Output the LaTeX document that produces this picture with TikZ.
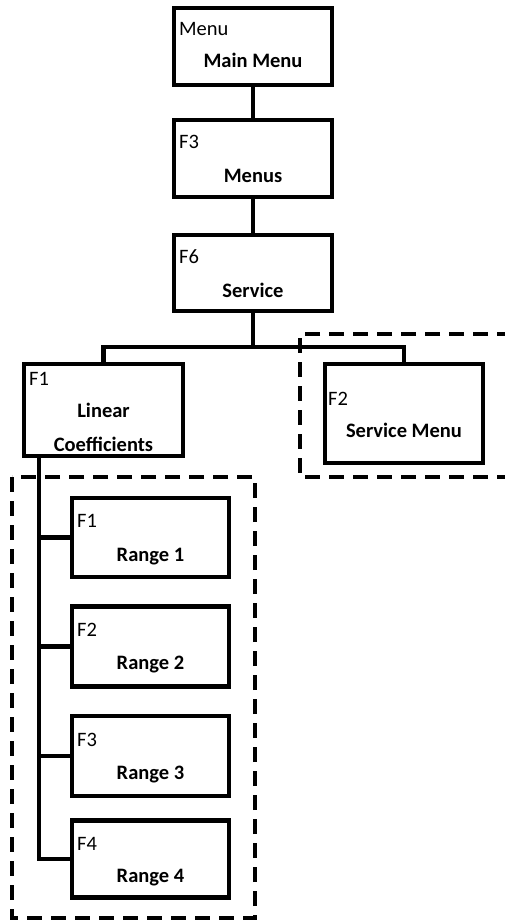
\documentclass[tikz,border=0pt]{standalone}
\usepackage{fontspec}
\setmainfont{Carlito}
\usetikzlibrary{calc}
\begin{document}
\begin{tikzpicture}[x=1pt,y=-1pt,
  box/.style={draw=black,line width=4.5pt,rectangle,outer sep=0pt,inner sep=0pt,fill=white},
  conn/.style={draw=black,line width=4.5pt},
  grp/.style={draw=black,line width=3.2pt,dash pattern=on 15pt off 9pt},
  lab/.style={inner sep=0pt,anchor=base west,font=\fontsize{20.5}{24}\selectfont},
  ttl/.style={inner sep=0pt,anchor=base,font=\fontsize{20.5}{24}\selectfont\bfseries}]
\useasboundingbox (0,0) rectangle (505,923);
% dashed groups
\draw[grp] (12,477) rectangle (255,918);
\draw[grp] (512,334) -- (300,334) -- (300,477) -- (512,477);
% boxes
\node[box,minimum width=158pt,minimum height=77pt] (main) at (253,46.5) {};
\node[box,minimum width=158pt,minimum height=77pt] (menus) at (253,158.5) {};
\node[box,minimum width=158pt,minimum height=76pt] (service) at (253,273) {};
\node[box,minimum width=159pt,minimum height=92pt] (lc) at (103.5,410) {};
\node[box,minimum width=158pt,minimum height=99pt] (sm) at (404,413.5) {};
\node[box,minimum width=157pt,minimum height=79pt] (r1) at (150.5,537.5) {};
\node[box,minimum width=157pt,minimum height=80pt] (r2) at (150.5,646.5) {};
\node[box,minimum width=157pt,minimum height=80pt] (r3) at (150.5,756) {};
\node[box,minimum width=157pt,minimum height=77pt] (r4) at (150.5,859) {};
% texts
\node[lab] (tmain) at ($(main.north west)+(5,28)$) {Menu};
\node[ttl] (nmain) at ($(main.north)+(0,60)$) {Main Menu};
\node[lab] (tmenus) at ($(menus.north west)+(5,29)$) {F3};
\node[ttl] (nmenus) at ($(menus.north)+(0,62)$) {Menus};
\node[lab] (tservice) at ($(service.north west)+(5,28)$) {F6};
\node[ttl] (nservice) at ($(service.north)+(0,62)$) {Service};
\node[lab] (tlc) at ($(lc.north west)+(5,21)$) {F1};
\node[ttl] (nlc1) at ($(lc.north)+(0,53)$) {Linear};
\node[ttl] (nlc2) at ($(lc.north)+(0,87)$) {Coefficients};
\node[lab] (tsm) at ($(sm.north west)+(3,41)$) {F2};
\node[ttl] (nsm) at ($(sm.north)+(0,73)$) {Service Menu};
\node[lab] (tr1) at ($(r1.north west)+(5,29)$) {F1};
\node[ttl] (nr1) at ($(r1.north)+(0,63)$) {Range 1};
\node[lab] (tr2) at ($(r2.north west)+(5,30)$) {F2};
\node[ttl] (nr2) at ($(r2.north)+(0,63)$) {Range 2};
\node[lab] (tr3) at ($(r3.north west)+(5,30)$) {F3};
\node[ttl] (nr3) at ($(r3.north)+(0,63)$) {Range 3};
\node[lab] (tr4) at ($(r4.north west)+(5,30)$) {F4};
\node[ttl] (nr4) at ($(r4.north)+(0,62)$) {Range 4};
% connectors
\coordinate (bar) at (253,347);
\coordinate (sp) at (39,0);
\draw[conn] (main.south) -- (menus.north);
\draw[conn] (menus.south) -- (service.north);
\draw[conn] (service.south) -- (bar);
\draw[conn] (lc.north) |- (bar) -| (sm.north);
\draw[conn] (lc.south -| sp) |- (r4.west);
\draw[conn] (r1.west -| sp) -- (r1.west);
\draw[conn] (r2.west -| sp) -- (r2.west);
\draw[conn] (r3.west -| sp) -- (r3.west);
\end{tikzpicture}
\end{document}
